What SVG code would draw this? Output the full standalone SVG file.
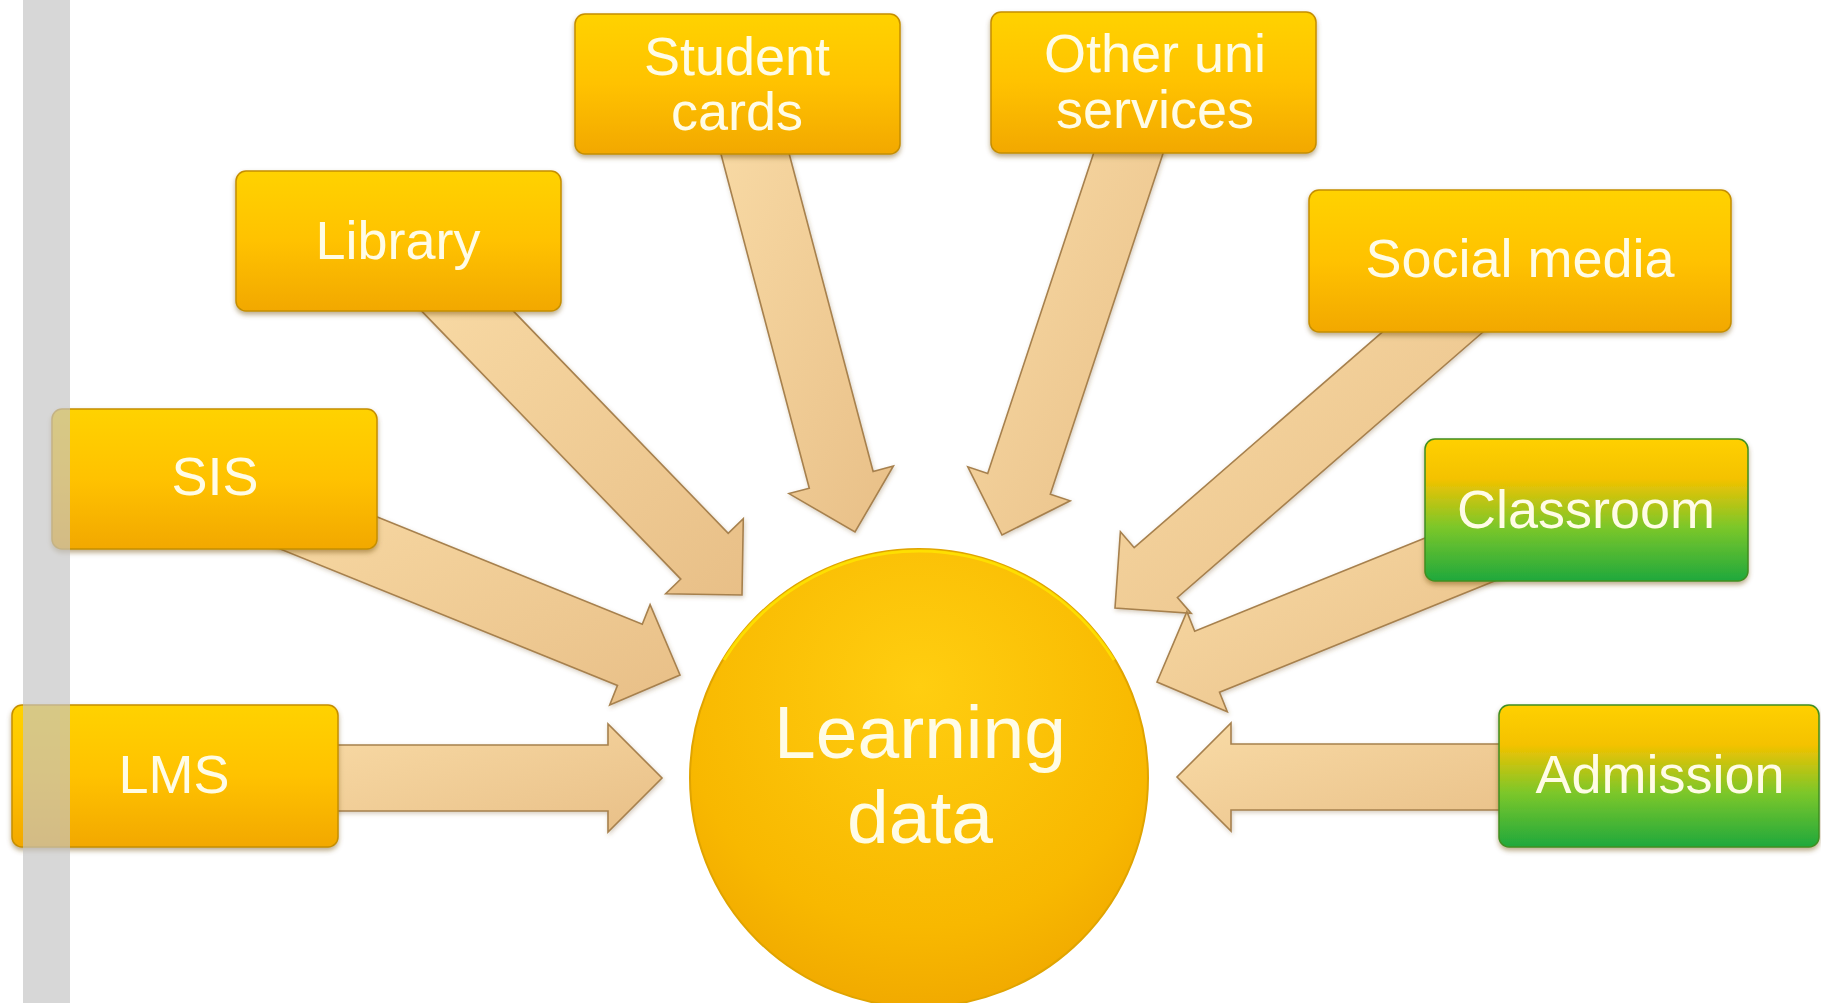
<svg xmlns="http://www.w3.org/2000/svg" width="1821" height="1003" viewBox="0 0 1821 1003">
<style>
.box{stroke:#C58E00;stroke-width:1.5;filter:url(#sh)}
.arr{fill:url(#ag);stroke:#A7814E;stroke-width:1.6;stroke-linejoin:miter}
.t{font-family:"Liberation Sans",Arial,sans-serif;font-size:54px;fill:#FFFCE6;text-anchor:middle}
.tc{font-family:"Liberation Sans",Arial,sans-serif;font-size:75px;fill:#FFFCE6;text-anchor:middle}
</style>
<defs>
<linearGradient id="og" x1="0" y1="0" x2="0" y2="1">
<stop offset="0" stop-color="#FFD200"/>
<stop offset="0.5" stop-color="#FFC200"/>
<stop offset="1" stop-color="#F2A800"/>
</linearGradient>
<linearGradient id="gg" x1="0" y1="0" x2="0" y2="1">
<stop offset="0" stop-color="#FFD000"/>
<stop offset="0.28" stop-color="#F4C200"/>
<stop offset="0.62" stop-color="#7CC72A"/>
<stop offset="1" stop-color="#1FA83C"/>
</linearGradient>
<linearGradient id="ag" x1="0" y1="0" x2="1" y2="1">
<stop offset="0" stop-color="#F9DBA6"/>
<stop offset="1" stop-color="#E8BF87"/>
</linearGradient>
<radialGradient id="cg" cx="0.5" cy="0.3" r="0.75">
<stop offset="0" stop-color="#FFCE10"/>
<stop offset="0.7" stop-color="#F8B800"/>
<stop offset="1" stop-color="#EFA600"/>
</radialGradient>
<filter id="sh" x="-10%" y="-10%" width="120%" height="130%">
<feDropShadow dx="0" dy="3" stdDeviation="2.5" flood-color="#6B4A00" flood-opacity="0.45"/>
</filter>
<filter id="ash" x="-10%" y="-10%" width="120%" height="120%">
<feDropShadow dx="1" dy="2" stdDeviation="2" flood-color="#7A5A30" flood-opacity="0.3"/>
</filter>
</defs>
<rect x="0" y="0" width="1821" height="1003" fill="#FFFFFF"/>
<g id="connectors" filter="url(#ash)">
<polygon class="arr" points="300,745 608,745 608,724 662,778 608,832 608,811 300,811"/>
<polygon class="arr" points="1540,744 1231,744 1231,723 1177,777 1231,831 1231,810 1540,810"/>
<polygon class="arr" points="271.5,474.2 642.3,624.2 650.1,604.7 680,675 609.7,704.9 617.5,685.4 246.7,535.4"/>
<polygon class="arr" points="464.1,260.1 728.2,533.3 743.3,518.7 742,595 665.7,593.7 680.8,579.1 416.7,305.9"/>
<polygon class="arr" points="776,104 873.1,471.4 893.4,466 855,532 789,493.6 809.3,488.2 712.2,120.8"/>
<polygon class="arr" points="1107,112.8 987.7,473.4 967.8,466.8 1002,535 1070.2,500.8 1050.3,494.2 1169.6,133.6"/>
<polygon class="arr" points="1451.3,272.2 1134.2,547.7 1120.4,531.8 1115,608 1191.2,613.4 1177.4,597.5 1494.5,322"/>
<polygon class="arr" points="1500.6,507.4 1194.7,631.2 1186.9,611.7 1157,682 1227.3,711.8 1219.5,692.3 1525.4,568.6"/>
</g>
<g id="node-learning-data">
<circle cx="919" cy="778" r="229" fill="url(#cg)" stroke="#E0A400" stroke-width="2"/>
<path d="M 724 660 A 229 229 0 0 1 1114 660" fill="none" stroke="#FFE600" stroke-width="3" opacity="0.8"/>
<text class="tc" x="920" y="758">Learning</text>
<text class="tc" x="920" y="843">data</text>
</g>
<g id="node-student-cards">
<rect class="box" x="575" y="14" width="325" height="140" rx="10" fill="url(#og)"/>
<text class="t" x="737" y="75">Student</text>
<text class="t" x="737" y="130">cards</text>
</g>
<g id="node-other-uni-services">
<rect class="box" x="991" y="12" width="325" height="141" rx="10" fill="url(#og)"/>
<text class="t" x="1155" y="72">Other uni</text>
<text class="t" x="1155" y="128">services</text>
</g>
<g id="node-library">
<rect class="box" x="236" y="171" width="325" height="140" rx="10" fill="url(#og)"/>
<text class="t" x="398" y="259">Library</text>
</g>
<g id="node-social-media">
<rect class="box" x="1309" y="190" width="422" height="142" rx="10" fill="url(#og)"/>
<text class="t" x="1520" y="277">Social media</text>
</g>
<g id="node-sis">
<rect class="box" x="52" y="409" width="325" height="140" rx="10" fill="url(#og)"/>
<text class="t" x="215" y="495">SIS</text>
</g>
<g id="node-classroom">
<rect class="box" x="1425" y="439" width="323" height="142" rx="10" fill="url(#gg)" style="stroke:#3F8F20"/>
<text class="t" x="1586" y="528">Classroom</text>
</g>
<g id="node-lms">
<rect class="box" x="12" y="705" width="326" height="142" rx="10" fill="url(#og)"/>
<text class="t" x="174" y="793">LMS</text>
</g>
<g id="node-admission">
<rect class="box" x="1499" y="705" width="320" height="142" rx="10" fill="url(#gg)" style="stroke:#3F8F20"/>
<text class="t" x="1660" y="793">Admission</text>
</g>
<rect id="side-bar" x="23" y="0" width="47" height="1003" fill="#C4C4C4" opacity="0.68"/>
</svg>
